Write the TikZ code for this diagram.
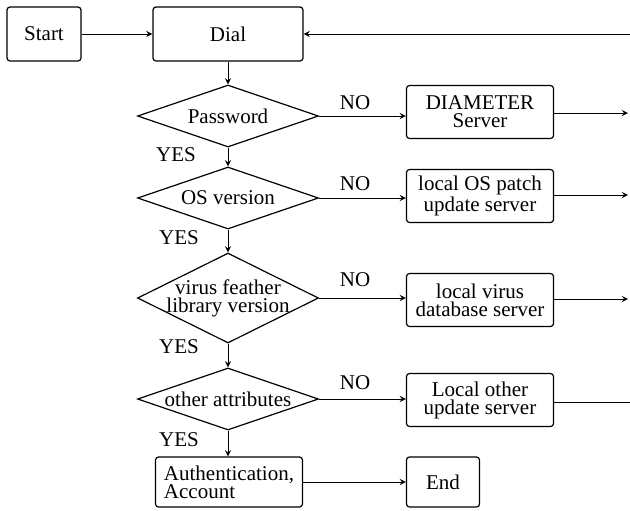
\documentclass[tikz,border=0pt]{standalone}
\usepackage{fontspec}
\setmainfont{Liberation Serif}
\usetikzlibrary{shapes.geometric}
\begin{document}
\begin{tikzpicture}[
    x=0.5pt, y=-0.5pt,
    >=stealth,
    every node/.style={font=\fontsize{10.5}{9}\selectfont},
    box/.style={draw, semithick, rounded corners=1.5pt, align=center, minimum width=73.5pt, minimum height=26.5pt, inner sep=1pt},
    check/.style={draw, semithick, diamond, aspect=2.9, inner sep=0pt, align=center, minimum width=90.5pt, minimum height=31pt},
    arrow/.style={->}
  ]
    \useasboundingbox (0,0) rectangle (630,510);

    \node[box, minimum width=37pt, minimum height=27pt] (start) at (44,34) {Start};
    \node[box, minimum width=75pt, minimum height=27pt] (dial) at (228,34) {Dial};
    \node[check] (pwd) at (228,116) {Password};
    \node[check] (os) at (228,198) {OS version};
    \node[check, aspect=2, inner ysep=-4pt, minimum height=45pt] (virus) at (228,298) {virus feather\\library version};
    \node[check] (other) at (228,399) {other attributes};
    \node[box] (diam) at (480,112) {DIAMETER\\Server};
    \node[box] (ospatch) at (480,196) {local OS patch\\update server};
    \node[box] (virusdb) at (480,300) {local virus\\database server};
    \node[box] (otherupd) at (480,400) {Local other\\update server};
    \node[box, align=left, minimum height=25pt] (auth) at (229,482) {Authentication,\\Account};
    \node[box, minimum width=36.5pt, minimum height=25pt] (end) at (443,482) {End};

    \node (no1) at (355,103) {NO};
    \node (no2) at (355,184) {NO};
    \node (no3) at (355,280) {NO};
    \node (no4) at (355,383) {NO};
    \node (yes1) at (176,155) {YES};
    \node (yes2) at (179,238) {YES};
    \node (yes3) at (179,347) {YES};
    \node (yes4) at (179,440) {YES};

    \coordinate (back) at (630,34);
    \coordinate (out1) at (628,113);
    \coordinate (out2) at (628,195);
    \coordinate (out3) at (628,299);
    \coordinate (out4) at (630,402);

    \draw[arrow] (start) -- (dial);
    \draw[arrow] (back) -- (dial.east);
    \draw[arrow] (dial) -- (pwd);
    \draw[arrow] (pwd) -- (os);
    \draw[arrow] (os) -- (virus);
    \draw[arrow] (virus) -- (other);
    \draw[arrow] (other.south) -- (other.south |- auth.north);
    \draw[arrow] (auth) -- (end);
    \draw[arrow] (pwd.east) -- (pwd.east -| diam.west);
    \draw[arrow] (os.east) -- (os.east -| ospatch.west);
    \draw[arrow] (virus.east) -- (virus.east -| virusdb.west);
    \draw[arrow] (other.east) -- (other.east -| otherupd.west);
    \draw[arrow] (diam.east |- out1) -- (out1);
    \draw[arrow] (ospatch.east |- out2) -- (out2);
    \draw[arrow] (virusdb.east |- out3) -- (out3);
    \draw (otherupd.east |- out4) -- (out4);
  \end{tikzpicture}
\end{document}
